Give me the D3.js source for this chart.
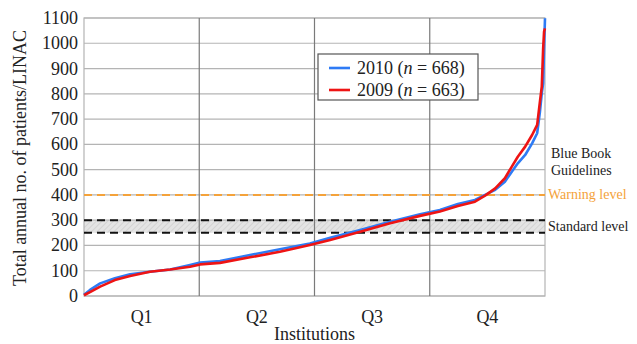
<!DOCTYPE html>
<html lang="en">
<head>
<meta charset="utf-8">
<title>Patients per LINAC</title>
<script src="https://d3js.org/d3.v7.min.js"></script>
<style>
  body { margin: 0; background: #fff; }
  svg text { font-family: 'Liberation Serif', 'Times New Roman', Times, 'DejaVu Serif', serif; }
</style>
</head>
<body>
<svg width="637" height="344"></svg>
<script>
// DATA: percentile rank of institution (0-100) and patients/LINAC
const pct2010 = [0, 1.3, 3.5, 6.7, 10, 14.3, 18.7, 23, 25.2, 29.5, 36, 42.5, 49, 53.4, 59.9, 66.4, 72.9, 77.2, 81.1, 84.8, 87, 89.2, 91.3, 92.8, 94.1, 95.7, 97.2, 98.3, 98.9, 99.3, 99.6, 99.8, 100];
const val2010 = [5, 24, 50, 70, 86, 96, 105, 123, 132, 138, 162, 185, 208, 230, 261, 294, 323, 340, 364, 380, 400, 420, 452, 492, 525, 558, 604, 644, 729, 802, 842, 981, 1099];
const pct2009 = [0, 1.3, 3.5, 6.7, 10, 14.3, 18.7, 23, 25.2, 29.5, 36, 42.5, 49, 53.4, 59.9, 66.4, 72.9, 77.2, 81.1, 84.8, 87, 89.2, 91.3, 92.8, 94.1, 95.7, 97.2, 98.3, 98.9, 99.3, 99.6, 99.8, 100];
const val2009 = [3, 15, 37, 63, 79, 96, 105, 116, 125, 131, 153, 175, 202, 222, 254, 288, 317, 334, 356, 373, 397, 426, 466, 512, 551, 591, 637, 677, 769, 828, 980, 1046, 1059];

const yTicks = [0, 100, 200, 300, 400, 500, 600, 700, 800, 900, 1000, 1100];
const quartileBreaks = [25, 50, 75];
const quartileLabels = ["Q1", "Q2", "Q3", "Q4"];
const quartileCenters = [12.5, 37.5, 62.5, 87.5];
const standardLevel = [250, 300];
const warningLevel = 400;
const seriesNames = ["2010", "2009"];
const seriesN = [668, 663];

const serif = "'Liberation Serif', 'Times New Roman', 'DejaVu Serif', serif";
const svg = d3.select("svg").attr("font-family", serif);
const plotL = 84, plotR = 545, plotT = 18, plotB = 296;

const x = d3.scaleLinear().domain([0, 100]).range([plotL, plotR]);
const y = d3.scaleLinear().domain([0, 1100]).range([plotB, plotT]);

// hatch pattern for the standard band
const defs = svg.append("defs");
const pat = defs.append("pattern")
  .attr("id", "hatch").attr("width", 4).attr("height", 4)
  .attr("patternUnits", "userSpaceOnUse")
  .attr("patternTransform", "rotate(45)");
pat.append("rect").attr("width", 4).attr("height", 4).attr("fill", "#e4e4e4");
pat.append("line").attr("x1", 0).attr("y1", 0).attr("x2", 0).attr("y2", 4)
  .attr("stroke", "#c8c8c8").attr("stroke-width", 1.2);

// band
svg.append("rect")
  .attr("x", x(0)).attr("width", x(100) - x(0))
  .attr("y", y(standardLevel[1])).attr("height", y(standardLevel[0]) - y(standardLevel[1]))
  .attr("fill", "url(#hatch)");

// horizontal grid
svg.append("g").selectAll("line").data(yTicks).join("line")
  .attr("x1", x(0)).attr("x2", x(100))
  .attr("y1", d => y(d)).attr("y2", d => y(d))
  .attr("stroke", "#b4b4b4").attr("stroke-width", 1.2);

// frame
svg.append("rect")
  .attr("x", x(0)).attr("y", y(1100))
  .attr("width", x(100) - x(0)).attr("height", y(0) - y(1100))
  .attr("fill", "none").attr("stroke", "#b4b4b4").attr("stroke-width", 1.2);

// quartile lines
svg.append("g").selectAll("line").data(quartileBreaks).join("line")
  .attr("x1", d => x(d)).attr("x2", d => x(d))
  .attr("y1", y(1100)).attr("y2", y(0))
  .attr("stroke", "#7a7a7a").attr("stroke-width", 1.2);

// guideline dashed lines
svg.append("g").selectAll("line").data(standardLevel).join("line")
  .attr("x1", x(0)).attr("x2", x(100))
  .attr("y1", d => y(d)).attr("y2", d => y(d))
  .attr("stroke", "#111").attr("stroke-width", 2)
  .attr("stroke-dasharray", "8,5");
svg.append("line")
  .attr("x1", x(0)).attr("x2", x(100))
  .attr("y1", y(warningLevel)).attr("y2", y(warningLevel))
  .attr("stroke", "#f4a23a").attr("stroke-width", 2)
  .attr("stroke-dasharray", "8,5");

// curves
const line = d3.line().x(d => x(d[0])).y(d => y(d[1]));
const s2010 = d3.zip(pct2010, val2010);
const s2009 = d3.zip(pct2009, val2009);
svg.append("path").datum(s2010).attr("d", line)
  .attr("fill", "none").attr("stroke", "#2e7bf5").attr("stroke-width", 2.6)
  .attr("stroke-linejoin", "round");
svg.append("path").datum(s2009).attr("d", line)
  .attr("fill", "none").attr("stroke", "#ee1414").attr("stroke-width", 2.6)
  .attr("stroke-linejoin", "round");

// y tick labels
svg.append("g").selectAll("text").data(yTicks).join("text")
  .attr("x", 78).attr("y", d => y(d) + 6)
  .attr("text-anchor", "end").attr("font-size", 18).attr("fill", "#222")
  .text(d => d);

// quartile labels
svg.append("g").selectAll("text").data(quartileLabels).join("text")
  .attr("x", (d, i) => x(quartileCenters[i])).attr("y", 323)
  .attr("text-anchor", "middle").attr("font-size", 18).attr("fill", "#222")
  .text(d => d);

svg.append("text")
  .attr("x", x(50)).attr("y", 340)
  .attr("text-anchor", "middle").attr("font-size", 18).attr("fill", "#222")
  .text("Institutions");

svg.append("text")
  .attr("transform", "translate(26," + ((plotT + plotB) / 2 + 1) + ") rotate(-90)")
  .attr("text-anchor", "middle").attr("font-size", 18).attr("fill", "#222")
  .text("Total annual no. of patients/LINAC");

// right annotations
const ann = svg.append("g").attr("font-size", 14).attr("fill", "#222");
ann.append("text").attr("x", 551).attr("y", 158).text("Blue Book");
ann.append("text").attr("x", 551).attr("y", 175).text("Guidelines");
ann.append("text").attr("x", 548).attr("y", y(warningLevel) + 4.5)
  .attr("fill", "#f4a23a").text("Warning level");
ann.append("text").attr("x", 548).attr("y", y(275) + 4.5).text("Standard level");

// legend
const lg = svg.append("g").attr("transform", "translate(318,54)");
lg.append("rect").attr("width", 160).attr("height", 46)
  .attr("fill", "#fff").attr("stroke", "#555").attr("stroke-width", 1.2);
const colors = ["#2e7bf5", "#ee1414"];
seriesNames.forEach((name, i) => {
  const yy = 14 + i * 22;
  lg.append("line").attr("x1", 11).attr("x2", 32).attr("y1", yy).attr("y2", yy)
    .attr("stroke", colors[i]).attr("stroke-width", 2.6);
  const t = lg.append("text").attr("x", 39).attr("y", yy + 6)
    .attr("font-size", 18).attr("fill", "#222");
  t.append("tspan").text(name + " (");
  t.append("tspan").attr("font-style", "italic").text("n");
  t.append("tspan").text(" = " + seriesN[i] + ")");
});
</script>
</body>
</html>
